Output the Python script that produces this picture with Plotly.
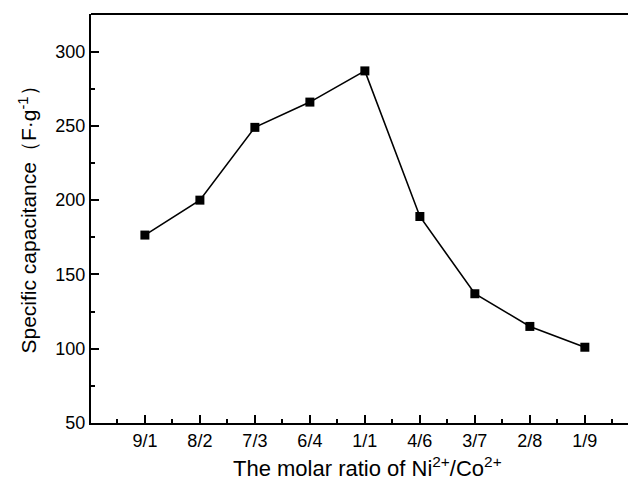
import plotly.graph_objects as go

# molar ratio categories and measured specific capacitance
ratios = ["9/1", "8/2", "7/3", "6/4", "1/1", "4/6", "3/7", "2/8", "1/9"]
capacitance = [176.5, 200, 249, 266, 287, 189, 137, 115, 101]
y_ticks = [50, 100, 150, 200, 250, 300]
y_minor = [75, 125, 175, 225, 275]

x_pos = list(range(len(ratios)))
font = "Arial, Liberation Sans, sans-serif"

fig = go.Figure()
fig.add_trace(go.Scatter(
    x=x_pos, y=capacitance, mode="lines+markers",
    line=dict(color="black", width=1.6),
    marker=dict(symbol="square", size=9, color="black"),
    showlegend=False,
))

# top frame line (right edge of the frame falls outside the picture)
fig.add_shape(type="line", xref="paper", yref="paper", x0=0, x1=1, y0=1, y1=1,
              line=dict(color="black", width=2))

# axis titles as annotations so they can be placed exactly
fig.add_annotation(text="The molar ratio of Ni<sup>2+</sup>/Co<sup>2+</sup>",
                   xref="paper", yref="paper", x=0.5, y=0, xanchor="center",
                   yanchor="middle", yshift=-44, xshift=4, showarrow=False,
                   font=dict(size=22, color="black", family=font))
fig.add_annotation(text="Specific capacitance（F·g<sup>-1</sup>）",
                   xref="paper", yref="paper", x=0, y=0.5, xanchor="center",
                   yanchor="middle", xshift=-64, yshift=4, textangle=-90,
                   showarrow=False,
                   font=dict(size=21, color="black", family=font))

fig.update_xaxes(
    range=[-0.98, 8.93], automargin=False,
    tickmode="array", tickvals=x_pos, ticktext=ratios,
    ticks="inside", ticklen=8, tickwidth=1.5, tickcolor="black",
    minor=dict(tickvals=[i - 0.5 for i in range(len(ratios) + 1)],
               ticks="inside", ticklen=4, tickwidth=1.5, tickcolor="black"),
    showline=True, linecolor="black", linewidth=2,
    showgrid=False, zeroline=False,
    tickfont=dict(size=18, color="black", family=font),
)
fig.update_yaxes(
    range=[50, 325.3], automargin=False,
    tickmode="array", tickvals=y_ticks,
    ticks="inside", ticklen=8, tickwidth=1.5, tickcolor="black",
    minor=dict(tickvals=y_minor, ticks="inside", ticklen=4,
               tickwidth=1.5, tickcolor="black"),
    showline=True, linecolor="black", linewidth=2,
    showgrid=False, zeroline=False,
    tickfont=dict(size=18, color="black", family=font),
)

# the page body adds 8px around the figure, so size it to fit the window
fig.update_layout(
    width=628, height=472,
    margin=dict(l=83, r=0, t=6, b=57),
    plot_bgcolor="white", paper_bgcolor="white",
)

fig.write_html("out.html")
